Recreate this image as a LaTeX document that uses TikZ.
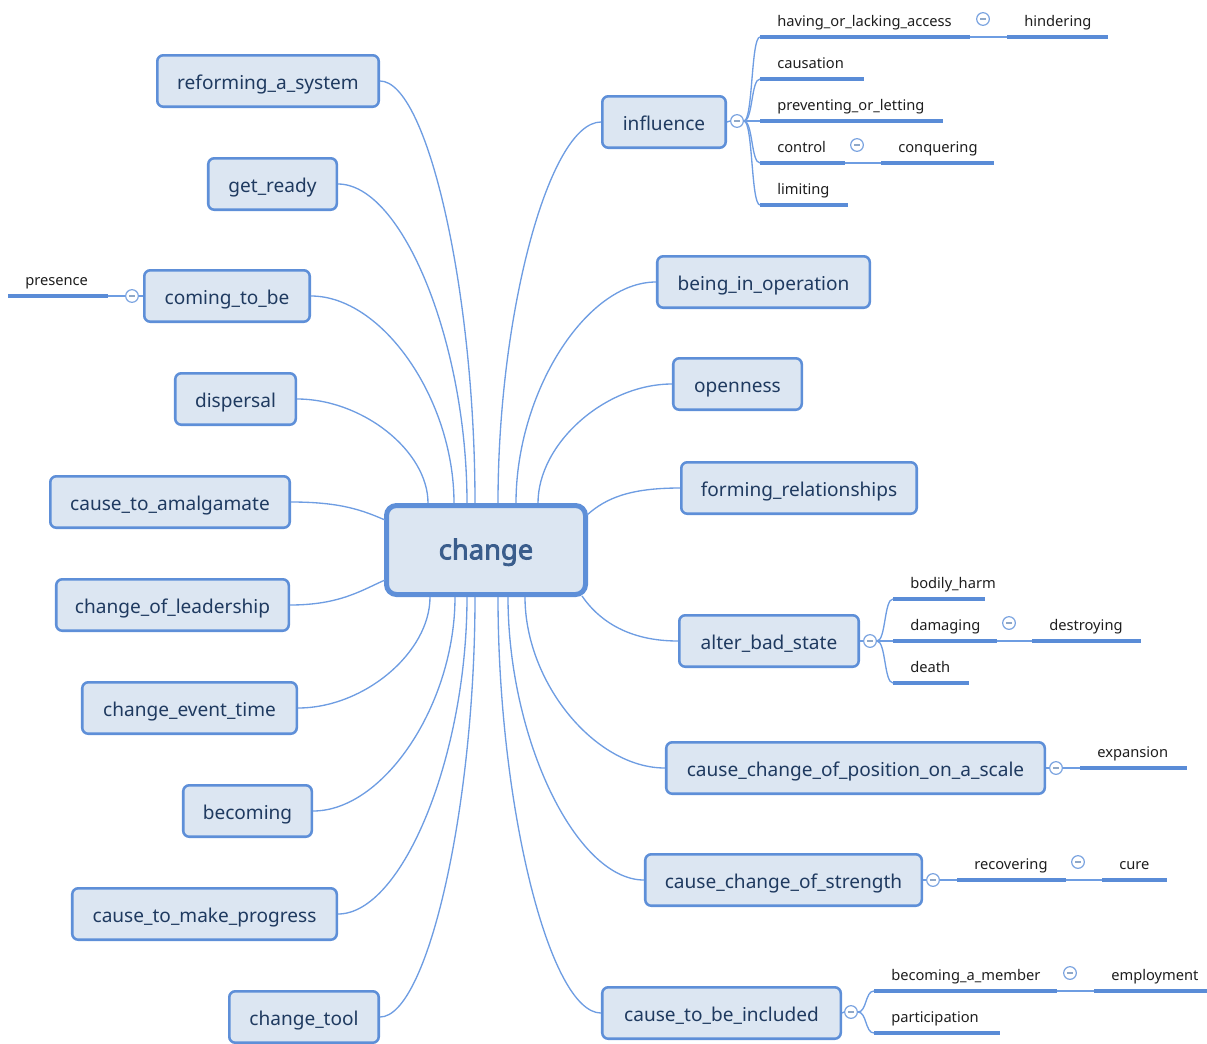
\documentclass[tikz,border=0pt]{standalone}
\usepackage{fontspec}
\setmainfont{Noto Sans}[AutoFakeBold=3]
\usetikzlibrary{calc}
\definecolor{boxfill}{HTML}{DCE6F2}
\definecolor{boxline}{HTML}{5E8FD8}
\definecolor{boxtext}{HTML}{1F3A60}
\definecolor{roottext}{HTML}{3A5D8C}
\definecolor{wire}{HTML}{6E9DE2}
\definecolor{ulinecol}{HTML}{5A8CD7}
\definecolor{leaftext}{HTML}{1E1E1E}
\definecolor{togline}{HTML}{7AA3E0}
\definecolor{togdash}{HTML}{8FA8C8}

\tikzset{
  topic/.style={draw=boxline, fill=boxfill, line width=1.9pt, rounded corners=4.5pt,
    minimum height=38.6pt, text=boxtext, font=\fontsize{14.3}{17}\selectfont, inner sep=0pt,
    text height=14pt, text depth=2pt},
  root/.style={draw=boxline, fill=boxfill, line width=3.75pt, rounded corners=7.5pt,
    minimum width=149.25pt, minimum height=66.75pt, text=roottext,
    font=\fontsize{20.5}{24}\selectfont\bfseries, inner sep=0pt,
    text height=17pt, text depth=3pt},
  leaf/.style={text=leaftext, font=\fontsize{11}{13}\selectfont, inner sep=0pt},
  conn/.style={draw=wire, line width=1pt},
  uline/.style={draw=ulinecol, line width=3pt},
  tog/.style={circle, draw=togline, fill=white, line width=0.9pt, minimum size=9.5pt, inner sep=0pt,
    path picture={\draw[togdash, line width=0.8pt]
      ([xshift=-2.2pt]path picture bounding box.center) -- ([xshift=2.2pt]path picture bounding box.center);}},
}

% underlined leaf: name, x start, x end, y, text
\newcommand\leafitem[5]{%
  \coordinate (#1a) at (#2,#4);
  \coordinate (#1b) at (#3,#4);
  \draw[uline] (#1a) -- (#1b);
  \node[leaf, anchor=base west] (#1) at ($(#1a)+(17,-10.5)$) {#5};}

% curved spoke from a topic anchor to a point on the central topic
\newcommand\spoke[2]{%
  \draw[conn] let \p1=(#1), \p2=(#2) in
    (#1) .. controls ({(\x1+\x2)/2},\y1) and (\x2,{(\y1+\y2)/2}) .. (#2);}

% bracket fork from a toggle to the start of a leaf underline
\newcommand\fork[2]{%
  \draw[conn] (#1.east) .. controls ($(#1.east)+(9,0)$) and ($(#2)+(-9,0)$) .. (#2);}

\begin{document}
\begin{tikzpicture}[x=0.75pt,y=-0.75pt]
\useasboundingbox (0,0) rectangle (1207,1043);

% central topic
\node[root] (ch) at (486,550) {change};

% attachment points on the central topic
\coordinate (a1) at (428,503);
\coordinate (a2) at (454,503);
\coordinate (a3) at (467,503);
\coordinate (a4) at (475,503);
\coordinate (a5) at (498,503);
\coordinate (a6) at (516,503);
\coordinate (a7) at (538,503);
\coordinate (b1) at (430,597);
\coordinate (b2) at (455,597);
\coordinate (b3) at (467,597);
\coordinate (b4) at (475,597);
\coordinate (b5) at (498,597);
\coordinate (b6) at (508,597);
\coordinate (b7) at (525,597);
\coordinate (sl1) at (385,520);
\coordinate (sl2) at (385,580);
\coordinate (sr1) at (587,515);
\coordinate (sr2) at (582,596);

% left topics
\node[topic, minimum width=166.1pt] (ref) at (268,81) {reforming\_a\_system};
\node[topic, minimum width=96.4pt] (gr) at (272.5,184) {get\_ready};
\node[topic, minimum width=124.1pt] (ctb) at (227,296) {coming\_to\_be};
\node[topic, minimum width=90.4pt] (dis) at (235.5,399) {dispersal};
\node[topic, minimum width=179.6pt] (cta) at (170,502) {cause\_to\_amalgamate};
\node[topic, minimum width=174.4pt] (col) at (172.5,605) {change\_of\_leadership};
\node[topic, minimum width=160.9pt] (cet) at (189.5,708) {change\_event\_time};
\node[topic, minimum width=96.4pt] (bec) at (247.5,811) {becoming};
\node[topic, minimum width=198.4pt] (ctmp) at (204.5,914) {cause\_to\_make\_progress};
\node[topic, minimum width=112.1pt] (ctl) at (304,1017) {change\_tool};

% right topics
\node[topic, minimum width=92.6pt] (inf) at (664,122) {influence};
\node[topic, minimum width=159.4pt] (bio) at (763.5,282) {being\_in\_operation};
\node[topic, minimum width=96.4pt] (opn) at (737.5,384) {openness};
\node[topic, minimum width=176.6pt] (frl) at (799,488) {forming\_relationships};
\node[topic, minimum width=134.6pt] (abs) at (769,641) {alter\_bad\_state};
\node[topic, minimum width=283.9pt] (ccp) at (855.5,768) {cause\_change\_of\_position\_on\_a\_scale};
\node[topic, minimum width=207.4pt] (ccs) at (783.5,880) {cause\_change\_of\_strength};
\node[topic, minimum width=178.9pt] (ctbi) at (721.5,1013) {cause\_to\_be\_included};

% spokes from the central topic
\spoke{ref.east}{a4}
\spoke{gr.east}{a3}
\spoke{ctb.east}{a2}
\spoke{dis.east}{a1}
\spoke{inf.west}{a5}
\spoke{bio.west}{a6}
\spoke{opn.west}{a7}
\spoke{cet.east}{b1}
\spoke{bec.east}{b2}
\spoke{ctmp.east}{b3}
\spoke{ctl.east}{b4}
\spoke{ctbi.west}{b5}
\spoke{ccs.west}{b6}
\spoke{ccp.west}{b7}
\draw[conn] (cta.east) .. controls (340,502) and (362,510) .. (sl1);
\draw[conn] (col.east) .. controls (340,605) and (362,590) .. (sl2);
\draw[conn] (frl.west) .. controls (630,488) and (606,498) .. (sr1);
\draw[conn] (abs.west) .. controls (630,641) and (600,622) .. (sr2);

% influence subtree
\node[tog] (inft) at (737,121) {};
\draw[conn] (inf.east) -- (inft.west);
\leafitem{hol}{760}{970}{37}{having\_or\_lacking\_access}
\leafitem{hin}{1007}{1108}{37}{hindering}
\leafitem{cau}{760}{864}{79}{causation}
\leafitem{pol}{760}{943}{121}{preventing\_or\_letting}
\leafitem{con}{760}{845}{163}{control}
\leafitem{cnq}{881}{994}{163}{conquering}
\leafitem{lim}{760}{848}{205}{limiting}
\fork{inft}{hola}
\fork{inft}{caua}
\draw[conn] (inft.east) -- (pola);
\fork{inft}{cona}
\fork{inft}{lima}
\draw[conn] (holb) -- (hina);
\node[tog] (holt) at (983,19) {};
\draw[conn] (conb) -- (cnqa);
\node[tog] (cont) at (857,145) {};

% coming_to_be subtree
\node[tog] (ctbt) at (132,296) {};
\draw[conn] (ctb.west) -- (ctbt.east);
\coordinate (prea) at (8,296);
\coordinate (preb) at (108,296);
\draw[uline] (prea) -- (preb);
\node[leaf, anchor=base west] (pre) at ($(prea)+(17,-10.5)$) {presence};
\draw[conn] (ctbt.west) -- (preb);

% alter_bad_state subtree
\node[tog] (abst) at (870,641) {};
\draw[conn] (abs.east) -- (abst.west);
\leafitem{bh}{893}{985}{599}{bodily\_harm}
\leafitem{dam}{893}{997}{641}{damaging}
\leafitem{des}{1032}{1141}{641}{destroying}
\leafitem{dea}{893}{969}{683}{death}
\fork{abst}{bha}
\draw[conn] (abst.east) -- (dama);
\fork{abst}{deaa}
\draw[conn] (damb) -- (desa);
\node[tog] (damt) at (1009,623) {};

% cause_change_of_position_on_a_scale subtree
\node[tog] (ccpt) at (1056,768) {};
\draw[conn] (ccp.east) -- (ccpt.west);
\leafitem{exs}{1080}{1187}{768}{expansion}
\draw[conn] (ccpt.east) -- (exsa);

% cause_change_of_strength subtree
\node[tog] (ccst) at (933,880) {};
\draw[conn] (ccs.east) -- (ccst.west);
\leafitem{rec}{957}{1066}{880}{recovering}
\leafitem{cur}{1102}{1167}{880}{cure}
\draw[conn] (ccst.east) -- (reca);
\draw[conn] (recb) -- (cura);
\node[tog] (rect) at (1078,862) {};

% cause_to_be_included subtree
\node[tog] (ctbit) at (851,1012) {};
\draw[conn] (ctbi.east) -- (ctbit.west);
\leafitem{bam}{874}{1057}{991}{becoming\_a\_member}
\leafitem{emp}{1094}{1210}{991}{employment}
\leafitem{par}{874}{1000}{1033}{participation}
\fork{ctbit}{bama}
\fork{ctbit}{para}
\draw[conn] (bamb) -- (empa);
\node[tog] (bamt) at (1070,973) {};
\end{tikzpicture}
\end{document}
